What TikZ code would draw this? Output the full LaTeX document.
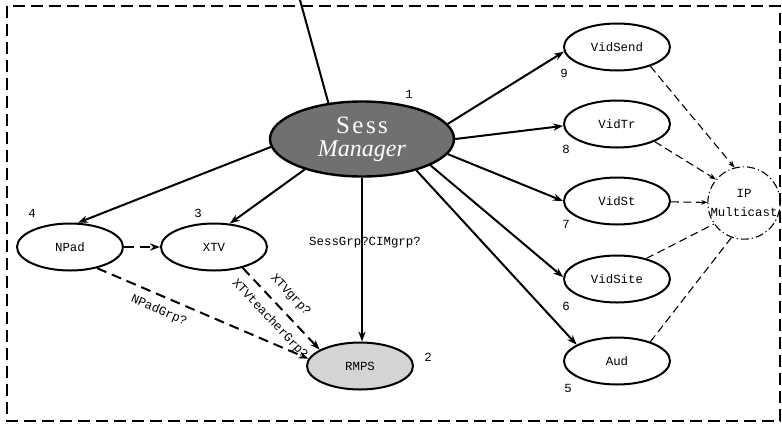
\documentclass[tikz,border=0pt]{standalone}
\usepackage{fontspec}
\setmainfont{Liberation Serif}
\setmonofont{Liberation Mono}
\usetikzlibrary{arrows.meta,shapes.geometric}
\definecolor{sessgray}{HTML}{707070}
\definecolor{rmpsgray}{HTML}{D4D4D4}
\begin{document}
\begin{tikzpicture}[x=0.5pt,y=-0.5pt,
  el/.style={draw, ellipse, line width=1pt, minimum width=53pt, minimum height=23.5pt, inner sep=0pt, font=\ttfamily\fontsize{6.2}{7}\selectfont},
  num/.style={font=\ttfamily\fontsize{6.2}{7}\selectfont, inner sep=0pt},
  lbl/.style={font=\ttfamily\fontsize{6.2}{7}\selectfont, inner sep=0pt},
  solidarrow/.style={line width=1pt, -{Stealth[length=5pt,width=3.6pt]}},
  dasharrow/.style={line width=1pt, dash pattern=on 5pt off 3pt, -{Stealth[length=5pt,width=3.6pt]}},
  thindash/.style={line width=0.55pt, dash pattern=on 4pt off 2.2pt},
  border/.style={line width=1.3pt, dash pattern=on 6pt off 3pt}]
\useasboundingbox (0,0) rectangle (782,424);
\draw[border] (7,6) rectangle (780,421);

% nodes
\node[draw, ellipse, fill=sessgray, line width=1.2pt, minimum width=92pt, minimum height=37.5pt, inner sep=0pt,
      text=white, align=center, font=\fontsize{12.5}{12}\selectfont] (sess) at (362,139)
      {{\addfontfeature{LetterSpace=10}Sess}\\[-0.5pt]{\fontsize{12}{12}\selectfont\textit{Manager}}};
\node[el, fill=rmpsgray] (rmps) at (360,366) {RMPS};
\node[el] (npad) at (70,247) {NPad};
\node[el] (xtv) at (214,247) {XTV};
\node[el] (vidsend) at (617,47) {VidSend};
\node[el] (vidtr) at (617,124) {VidTr};
\node[el] (vidst) at (617,201) {VidSt};
\node[el] (vidsite) at (617,279) {VidSite};
\node[el] (aud) at (617,361) {Aud};
\node[draw, circle, line width=0.55pt, dash pattern=on 4pt off 1.5pt on 0.6pt off 1.5pt, minimum size=35pt, inner sep=0pt,
      align=center, font=\ttfamily\fontsize{6.2}{9.5}\selectfont] (ip) at (744,203) {IP\\Multicast};

% numbers
\node[num] (n1) at (409,94) {1};
\node[num] (n2) at (428,357) {2};
\node[num] (n3) at (198,213) {3};
\node[num] (n4) at (32,213) {4};
\node[num] (n5) at (568,388) {5};
\node[num] (n6) at (566,306) {6};
\node[num] (n7) at (566,224) {7};
\node[num] (n8) at (566,149) {8};
\node[num] (n9) at (564,73) {9};

% line from top
\coordinate (topend) at (300,0);
\draw[line width=1pt] (topend) -- (sess.133);

% solid arrows from Sess
\draw[solidarrow] (sess.185) -- (npad.72);
\draw[solidarrow] (sess.208) -- (xtv.56);
\draw[solidarrow] (sess.south) -- (rmps.north -| sess.south);
\draw[solidarrow] (sess.10) -- (vidsend.185);
\draw[solidarrow] (sess.0) -- (vidtr.182);
\draw[solidarrow] (sess.-10) -- (vidst.180);
\draw[solidarrow] (sess.-21) -- (vidsite.178);
\draw[solidarrow] (sess.-30) -- (aud.158);
\node[lbl] (sesslbl) at (365,243) {SessGrp?CIMgrp?};

% dashed arrows
\draw[dasharrow] (npad) -- (xtv);
\draw[dasharrow] (npad.-38) -- (rmps.172)
  node[lbl, pos=0.32, sloped, below=4pt] (npadlbl) {NPadGrp?};
\draw[dasharrow] (xtv.-36) -- (rmps.158)
  node[lbl, pos=0.47, sloped, above=4.8pt] (xtvlbl) {XTVgrp?}
  node[lbl, pos=0.5, sloped, below=4.3pt] (xtvtlbl) {XTVteacherGrp?};

% to IP multicast
\draw[thindash, -{Stealth[length=3.5pt,width=2.6pt]}] (vidsend.-30) -- (ip.105);
\draw[thindash, -{Stealth[length=3.5pt,width=2.6pt]}] (vidtr.-25) -- (ip.140);
\draw[thindash, -{Stealth[length=3pt,width=2.4pt]}] (vidst) -- (ip);
\draw[thindash] (vidsite.35) -- (ip.215);
\draw[thindash] (aud.30) -- (ip.250);
\end{tikzpicture}
\end{document}
